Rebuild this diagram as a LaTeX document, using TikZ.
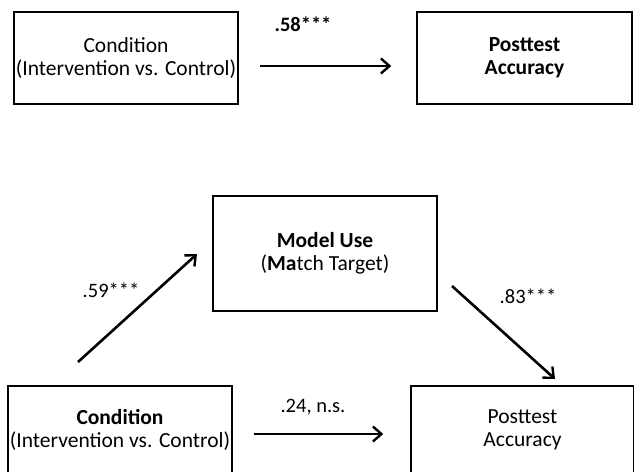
\documentclass[tikz,border=0pt]{standalone}
\usepackage{fontspec}
\setmainfont{Carlito}
\usetikzlibrary{arrows.meta}
\newcommand{\bx}[2]{node[box,minimum width=#1,minimum height=#2]}
\newcommand{\lb}[2]{node[lbl](#1){#2}}

\begin{document}
\begin{tikzpicture}[x=1pt,y=-1pt,
    box/.style={draw,line width=1.5pt,align=center,inner sep=0pt,font=\fontsize{21.5}{23}\selectfont},
    lbl/.style={font=\fontsize{20.5}{23}\selectfont,inner sep=0pt},
    lnk/.style={line width=2.6pt,-{Straight Barb[length=8.5pt,width=15pt,line width=2.4pt]}}]
  \useasboundingbox (0,0) rectangle (634,471);
  \clip (0,0) rectangle (634,471);
  % total effect
  \path (126,58) \bx{224pt}{92pt} (cond1) {Condition\\(Intervention vs. Control)};
  \path (524.5,58) \bx{215pt}{92pt} (post1) {\textbf{Posttest}\\\textbf{Accuracy}};
  \draw[lnk] ([xshift=21pt,yshift=-8pt]cond1.east) -- ([xshift=-25pt,yshift=-8pt]post1.west);
  \path (303,24) \lb{l58}{\textbf{.58***}};
  % mediated model
  \path (325,253.5) \bx{224pt}{115pt} (model) {\textbf{Model Use}\\(\textbf{Ma}tch Target)};
  \path (120,430) \bx{224pt}{88pt} (cond2) {\textbf{Condition}\\(Intervention vs. Control)};
  \path (522.5,430) \bx{223pt}{88pt} (post2) {Posttest\\Accuracy};
  \coordinate (a1) at (78,362);
  \coordinate (a2) at (197,254);
  \coordinate (b1) at (452,286);
  \coordinate (b2) at (555,379);
  \draw[lnk] (a1) -- (a2);
  \draw[lnk] (b1) -- (b2);
  \draw[lnk] ([xshift=21pt,yshift=-4pt]cond2.east) -- ([xshift=-27pt,yshift=-4pt]post2.west);
  \path (111,290) \lb{l59}{.59***};
  \path (528,296) \lb{l83}{.83***};
  \path (313,407) \lb{l24}{.24, n.s.};
\end{tikzpicture}
\end{document}
